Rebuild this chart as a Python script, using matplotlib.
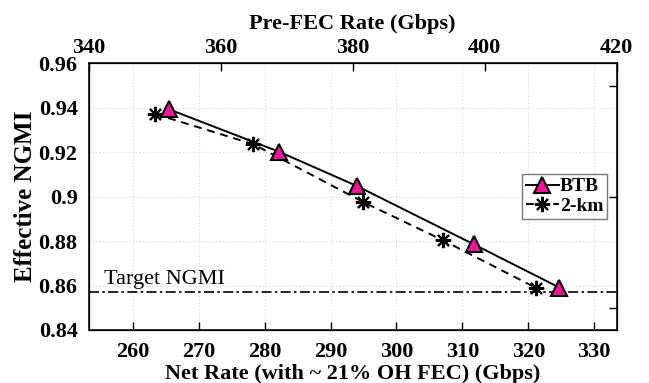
import matplotlib
matplotlib.use("Agg")
import matplotlib.pyplot as plt

# Data
net_btb = [265.5, 282.2, 294.0, 311.7, 324.7]
ngmi_btb = [0.9393, 0.9202, 0.9048, 0.8786, 0.8591]
net_2km = [263.4, 278.3, 295.0, 307.1, 321.2]
ngmi_2km = [0.9372, 0.9236, 0.8975, 0.8803, 0.8589]
target_ngmi = 0.857

bottom_ticks = [260, 270, 280, 290, 300, 310, 320, 330]
top_ticks = [340, 360, 380, 400, 420]
y_ticks = [0.84, 0.86, 0.88, 0.9, 0.92, 0.94, 0.96]
y_tick_labels = ["0.84", "0.86", "0.88", "0.9", "0.92", "0.94", "0.96"]
right_ticks = [0.85, 0.9, 0.95]

plt.rcParams['font.family'] = ['Liberation Serif', 'DejaVu Serif']
plt.rcParams['font.weight'] = 'bold'

fig = plt.figure(figsize=(6.49, 3.83), dpi=100)
ax = fig.add_axes([0.1367, 0.1384, 0.9502 - 0.1367, 0.8347 - 0.1384])

pink = '#F0169B'
ax.plot(net_btb, ngmi_btb, '-', color='black', lw=1.4, marker='^', ms=12,
        mfc=pink, mec='black', mew=1.5, label='BTB', zorder=4)
ax.plot(net_2km, ngmi_2km, '--', color='black', lw=1.4, marker=(8, 2, 0), ms=11,
        mec='black', mew=1.5, label='2-km', zorder=3, dashes=(4, 3))
ax.axhline(target_ngmi, color='black', lw=1.2, ls=(0, (6, 2, 1.5, 2)), zorder=2)
ax.text(255.6, 0.8627, 'Target NGMI', fontsize=16, fontweight='normal',
        va='center', ha='left')

ax.set_xlim(253.33, 333.4)
ax.set_ylim(0.84, 0.96)
ax.set_xticks(bottom_ticks)
ax.set_yticks(y_ticks)
ax.set_yticklabels(y_tick_labels)
ax.grid(True, color='#d9d9d9', ls=(0, (1, 2)), lw=0.8)
ax.tick_params(axis='x', direction='in', length=6, width=1, labelsize=16, pad=9)
ax.tick_params(axis='y', direction='in', length=0, labelsize=16, pad=8)
ax.set_xlabel('Net Rate (with ~ 21% OH FEC) (Gbps)', fontsize=16, fontweight='bold', labelpad=1)
ax.set_ylabel('Effective NGMI', fontsize=18, fontweight='bold', labelpad=1)
for s in ax.spines.values():
    s.set_linewidth(1.1)

axt = ax.twiny()
axt.set_xlim(340, 420)
axt.set_xticks(top_ticks)
axt.tick_params(axis='x', direction='in', length=6, width=1, labelsize=16, pad=4)
axt.set_xlabel('Pre-FEC Rate (Gbps)', fontsize=16, fontweight='bold', labelpad=6)

axr = ax.twinx()
axr.set_ylim(0.84, 0.96)
axr.set_yticks(right_ticks)
axr.set_yticklabels([])
axr.tick_params(axis='y', direction='in', length=6, width=1)

leg = ax.legend(loc='upper right', bbox_to_anchor=(0.982, 0.585), frameon=True,
                fancybox=False, edgecolor='#777777', framealpha=1,
                prop={'family': 'Liberation Serif', 'weight': 'bold', 'size': 14},
                handlelength=1.7, handletextpad=0.05, borderpad=0.2,
                labelspacing=0.1, borderaxespad=0.0)
leg.get_frame().set_linewidth(1.0)

fig.savefig('out.png', dpi=100)
